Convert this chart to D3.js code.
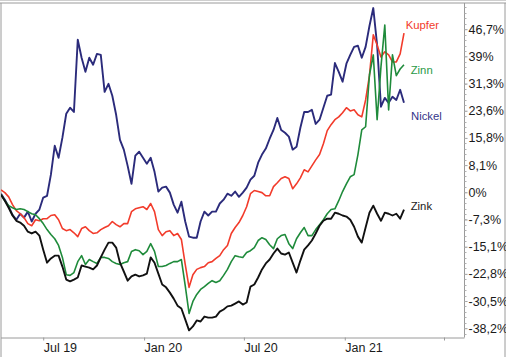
<!DOCTYPE html>
<html>
<head>
<meta charset="utf-8">
<script src="https://cdn.jsdelivr.net/npm/d3@7"></script>
<style>
  html, body { margin: 0; padding: 0; background: #fff; }
  svg { display: block; }
  text { font-family: "Liberation Sans", Arial, Helvetica, sans-serif; }
</style>
</head>
<body>
<svg id="chart" width="506" height="357"></svg>
<script>
// ---- data (weekly closes, % change since start) ----
const startDate = "2019-04-15";
const weekCount = 106;

const nickel = [0,-1.7,-3.7,-6.0,-7.4,-5.7,-6.8,-5.1,-7.9,-5.7, -4.5,-1.1,-0.6,5.4,13.6,10.2,15.9,22.7,24.4,23.2, 43.7,38.6,34.6,38.6,36.6,39.7,39.4,28.9,31.2,27.8, 22.4,15.3,12.5,7.9,2.8,10.8,11.9,10.2,8.5,10.2, 6.2,0.6,1.7,2.0,0.3,-3.1,-5.4,-2.3,-7.9,-12.2, -12.5,-12.5,-7.9,-5.1,-6.2,-5.1,-5.1,-2.8,-1.7,0, -0.6,0.6,-0.9,0.3,1.7,4.0,5.1,8.8,11.1,12.8, 15.6,18.1,21.5,18.1,17.3,16.2,12.5,13.3,18.7,23.2, 23.2,23.8,19.8,21.0,24.4,27.8,28.1,37.1,34.6,31.8, 36.9,39.4,41.7,42.0,38.6,41.7,47.6,52.7,42.2,24.7, 27.2,25.8,27.5,26.6,29.5,25.8];

const kupfer = [1.1,0.3,-0.9,-3.1,-4.8,-5.7,-6.8,-8.5,-9.1,-7.4, -7.7,-7.1,-7.1,-6.2,-6.0,-7.4,-9.9,-10.5,-10.2,-11.1, -12.2,-9.9,-9.4,-10.5,-11.3,-11.1,-10.2,-9.6,-9.1,-7.9, -8.8,-9.4,-8.5,-8.5,-5.1,-4.3,-4.0,-3.7,-4.5,-2.8, -5.1,-10.2,-11.9,-10.8,-10.5,-11.9,-11.3,-13.0,-20.1,-26.6, -23.0,-21.5,-21.0,-20.7,-19.6,-19.3,-18.4,-17.6,-15.9,-14.7, -11.3,-9.6,-8.2,-6.2,-3.7,0,0.9,0.6,0.3,-0.6, -0.6,2.0,3.1,4.3,4.8,4.3,1.4,2.8,4.5,6.8, 6.2,7.9,9.6,11.1,14.2,17.9,19.6,21.0,21.8,23.0, 24.4,23.5,23.8,22.4,21.8,26.6,33.5,45.1,42.2,38.8, 40.3,39.4,37.4,37.4,39.7,45.6];

const zinn = [-0.3,-2.0,-3.4,-4.0,-4.5,-4.3,-4.5,-5.1,-5.7,-6.0, -7.1,-8.5,-10.2,-11.6,-12.8,-14.7,-18.1,-23.0,-23.2,-22.4, -19.3,-17.6,-20.1,-18.7,-19.3,-19.8,-18.1,-18.1,-18.4,-19.3, -19.8,-20.1,-19.6,-19.3,-16.4,-15.9,-16.2,-17.3,-16.4,-14.2, -16.4,-20.7,-20.7,-20.4,-19.8,-19.3,-19.3,-18.7,-26.1,-34.0, -30.6,-28.6,-27.2,-26.4,-25.5,-24.7,-25.2,-24.7,-23.2,-21.5, -19.3,-17.6,-17.9,-18.1,-16.7,-16.2,-15.3,-13.3,-12.5,-13.0, -14.5,-15.6,-12.8,-11.9,-11.6,-14.2,-15.6,-12.8,-11.1,-9.6, -11.9,-11.9,-10.2,-8.8,-7.4,-5.7,-4.5,-4.3,-2.0,0.6, 2.8,4.8,5.4,11.1,18.1,19.0,33.7,39.4,21.0,36.0, 47.9,23.8,39.4,33.5,35.4,36.6];

const zink = [-0.3,-2.0,-4.0,-6.2,-7.7,-8.2,-9.1,-10.8,-11.3,-10.8, -11.9,-15.9,-19.6,-18.4,-17.6,-17.6,-20.7,-24.4,-24.9,-24.4, -23.8,-20.4,-20.7,-21.0,-21.5,-20.4,-18.1,-15.9,-13.9,-13.9, -15.3,-19.6,-22.1,-24.7,-23.5,-23.0,-23.5,-23.2,-22.7,-18.1, -19.6,-22.7,-25.8,-26.6,-28.1,-29.8,-31.8,-32.6,-35.7,-38.8, -37.7,-36.0,-36.3,-34.9,-35.2,-35.2,-34.9,-33.5,-32.9,-32.0, -31.8,-31.2,-30.6,-31.5,-30.9,-26.4,-25.8,-23.8,-21.5,-19.8, -18.7,-17.0,-15.6,-17.0,-17.3,-16.7,-19.6,-22.4,-19.0,-15.9, -14.7,-13.3,-11.3,-9.1,-7.7,-7.1,-7.1,-5.4,-5.7,-6.2, -6.5,-7.4,-9.4,-12.2,-13.9,-9.6,-5.4,-3.4,-5.7,-7.7, -5.4,-5.7,-6.2,-5.7,-7.1,-4.5];

const seriesNames = ["Nickel", "Kupfer", "Zinn", "Zink"];
const seriesColors = ["#2b2b7b", "#f23b2b", "#1f8b3b", "#111111"];
const labelColors = ["#34348a", "#f23b2b", "#2a9a48", "#1a1a1a"];

const yTickValues = [-38.2, -30.48, -22.77, -15.05, -7.33, 0.39, 8.11, 15.83, 23.55, 31.27, 38.99, 46.7];
const yTickLabels = ["-38,2%", "-30,5%", "-22,8%", "-15,1%", "-7,3%", "0%", "8,1%", "15,8%", "23,6%", "31,3%", "39%", "46,7%"];
const xTickDates = ["2019-07-01", "2020-01-01", "2020-07-01", "2021-01-01", "2021-07-01"];
const xTickLabels = ["Jul 19", "Jan 20", "Jul 20", "Jan 21", ""];
const xDomain = ["2019-04-15", "2021-08-07"];
const yDomain = [-40.84, 54.14];

// ---- build ----
const parse = d3.utcParse("%Y-%m-%d");
const start = parse(startDate);
const dates = d3.range(weekCount).map(i => d3.utcDay.offset(start, 7 * i));
const allSeries = [nickel, kupfer, zinn, zink];

const plot = { left: 1, right: 464.5, top: 3, bottom: 337.5 };

const x = d3.scaleUtc().domain(xDomain.map(parse)).range([plot.left, 464.3]);
const y = d3.scaleLinear().domain(yDomain).range([plot.bottom, plot.top]);

const svg = d3.select("#chart");

// frames
svg.append("line").attr("x1", 0).attr("x2", 506).attr("y1", 0.5).attr("y2", 0.5).attr("stroke", "#cfcfcf");
svg.append("line").attr("x1", 0).attr("x2", 506).attr("y1", 3).attr("y2", 3).attr("stroke", "#9a9a9a");
svg.append("line").attr("x1", 1).attr("x2", 1).attr("y1", 3).attr("y2", 357).attr("stroke", "#9a9a9a");
svg.append("line").attr("x1", 505).attr("x2", 505).attr("y1", 3).attr("y2", 357).attr("stroke", "#9a9a9a");

// lines
const clipId = "plotclip";
svg.append("clipPath").attr("id", clipId).append("rect")
  .attr("x", plot.left).attr("y", plot.top).attr("width", plot.right - plot.left).attr("height", plot.bottom - plot.top);

const line = d3.line().x((d, i) => x(dates[i])).y(d => y(d));
const widths = [1.9, 1.6, 1.6, 1.9];
const g = svg.append("g").attr("clip-path", `url(#${clipId})`);
allSeries.forEach((s, k) => {
  g.append("path").datum(s)
    .attr("fill", "none")
    .attr("stroke", seriesColors[k])
    .attr("stroke-width", widths[k])
    .attr("stroke-linejoin", "round")
    .attr("d", line);
});

// x axis
const xAxis = d3.axisBottom(x)
  .tickValues(xTickDates.map(parse))
  .tickSize(3)
  .tickFormat((d, i) => xTickLabels[i]);
const gx = svg.append("g").attr("transform", `translate(0,${plot.bottom})`).call(xAxis);
gx.select(".domain").attr("stroke", "#9a9a9a").attr("d", `M${plot.left},0.5H${plot.right}`);
gx.selectAll(".tick line").attr("stroke", "#9a9a9a");
gx.selectAll(".tick text")
  .attr("text-anchor", "start").attr("x", 0).attr("y", 14).attr("dy", 0)
  .attr("font-size", "12.5px").attr("fill", "#1a1a1a")
  .style("font-family", '"Liberation Sans", Arial, sans-serif');

// y axis (right)
const yAxis = d3.axisRight(y)
  .tickValues(yTickValues)
  .tickSize(3)
  .tickPadding(1)
  .tickFormat((d, i) => yTickLabels[i]);
const gy = svg.append("g").attr("transform", `translate(${plot.right},0)`).call(yAxis);
gy.select(".domain").attr("stroke", "#9a9a9a").attr("d", `M0,${plot.top}V${plot.bottom}`);
gy.selectAll(".tick line").attr("stroke", "#9a9a9a");
gy.selectAll(".tick text")
  .attr("font-size", "12.5px").attr("fill", "#1a1a1a")
  .style("font-family", '"Liberation Sans", Arial, sans-serif');

// minor ticks on y axis
const step = (yTickValues[yTickValues.length - 1] - yTickValues[0]) / (yTickValues.length - 1);
const minor = [];
for (let v = yTickValues[0] - step; v <= yDomain[1]; v += step / 5) {
  if (v >= yDomain[0] && v <= yDomain[1]) minor.push(v);
}
svg.append("g").selectAll("line").data(minor).join("line")
  .attr("x1", plot.right).attr("x2", plot.right + 2)
  .attr("y1", d => Math.round(y(d)) + 0.5).attr("y2", d => Math.round(y(d)) + 0.5)
  .attr("stroke", "#b0b0b0");

// series labels
const labelPos = [
  { name: "Nickel", x: 411, y: 115.8 },
  { name: "Kupfer", x: 405.7, y: 25.4 },
  { name: "Zinn", x: 410.7, y: 70 },
  { name: "Zink", x: 410.7, y: 205.8 }
];
labelPos.forEach((p, k) => {
  svg.append("text")
    .attr("x", p.x).attr("y", p.y).attr("dy", "0.35em")
    .attr("font-size", "11.3px")
    .attr("fill", labelColors[k])
    .text(seriesNames[k]);
});
</script>
</body>
</html>
